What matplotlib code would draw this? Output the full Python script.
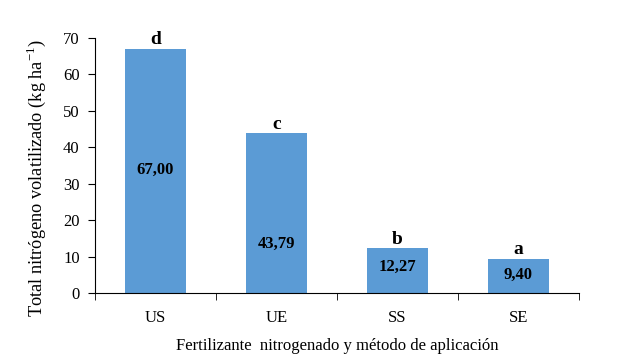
import matplotlib
matplotlib.use("Agg")
import matplotlib.pyplot as plt
import numpy as np

categories = ["US", "UE", "SS", "SE"]
values = [67.00, 43.79, 12.27, 9.40]
value_labels = ["67,00", "43,79", "12,27", "9,40"]
letters = ["d", "c", "b", "a"]
label_y = [33.8, 13.5, 7.1, 4.9]

plt.rcParams["font.family"] = ["Liberation Serif", "DejaVu Serif"]

fig = plt.figure(figsize=(6.29, 3.62), dpi=100)
ax = fig.add_axes([95 / 629, 1 - 293 / 362, 484 / 629, 255 / 362])

x = np.arange(len(categories))
ax.bar(x, values, width=0.51, color="#5b9bd5", zorder=2)

for xi, v, vl, lt, ly in zip(x, values, value_labels, letters, label_y):
    ax.text(xi, ly, vl, ha="center", va="center", fontsize=12, fontweight="bold", color="black")
    ax.text(xi, v + 0.2, lt, ha="center", va="bottom", fontsize=14, fontweight="bold")

ax.set_xlim(-0.5, len(categories) - 0.5)
ax.set_ylim(0, 70)
ax.set_yticks(range(0, 71, 10))
ax.set_xticks(x)
ax.set_xticklabels(categories)
ax.set_xticks(np.arange(-0.5, len(categories), 1), minor=True)
ax.tick_params(axis="x", which="major", length=0, pad=12, labelsize=12)
ax.tick_params(axis="x", which="minor", length=5, direction="out")
ax.tick_params(axis="y", length=5, direction="out", labelsize=12, pad=6)

ax.spines["top"].set_visible(False)
ax.spines["right"].set_visible(False)

ax.set_ylabel("Total nitrógeno volatilizado (kg ha$^{\\mathregular{-1}}$)", fontsize=13.2)
ax.yaxis.set_label_coords(-0.097, 0.45)
ax.set_xlabel("Fertilizante  nitrogenado y método de aplicación", fontsize=12, labelpad=9)

fig.savefig("out.png", dpi=100)
